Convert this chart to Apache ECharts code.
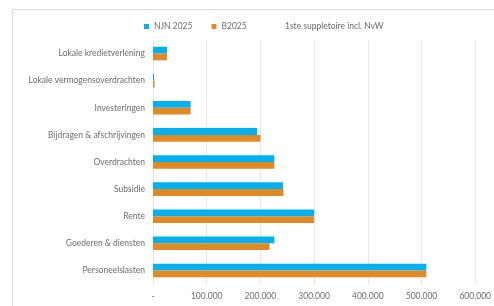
<!DOCTYPE html>
<html><head><meta charset="utf-8">
<script src="https://cdn.jsdelivr.net/npm/echarts@6/dist/echarts.min.js"></script>
<style>html,body{margin:0;padding:0;background:#fff}#c{width:494px;height:306px}</style>
</head><body><div id="c"></div>
<script>
var categories = ['Lokale kredietverlening','Lokale vermogensoverdrachten','Investeringen','Bijdragen & afschrijvingen','Overdrachten','Subsidie','Rente','Goederen & diensten','Personeelslasten'];
var njn2025 = [26000, 2000, 70000, 194000, 226000, 242000, 300000, 226000, 509000];
var b2025 = [26000, 3000, 70000, 200000, 226000, 243000, 300000, 217000, 509000];
var suppl = [];
var xTicks = {min: 0, max: 600000, interval: 100000};
var font = 'Lato';
var txt = {color:'#6b6b6b', fontSize: 8.5, fontFamily: font};
var chart = echarts.init(document.getElementById('c'));
chart.setOption({
  animation: false,
  graphic: [{type:'rect', shape:{x:12.5, y:9.5, width:500, height:320}, style:{fill:'none', stroke:'#d9d9d9', lineWidth:1}, silent:true}],
  legend: [{
    top: 17, left: 139, itemWidth: 5, itemHeight: 5, itemGap: 19,
    textStyle: txt,
    data: [{name:'NJN 2025', icon:'rect'},{name:'B2025', icon:'rect'}]
  },{
    top: 17, left: 270, itemWidth: 5, itemHeight: 5,
    textStyle: txt,
    data: [{name:'1ste suppletoire incl. NvW', icon:'rect'}]
  }],
  grid: {left: 153, right: 16, top: 40, bottom: 22, containLabel: false},
  xAxis: {
    type: 'value', min: xTicks.min, max: xTicks.max, interval: xTicks.interval,
    axisLine:{show:false}, axisTick:{show:false},
    splitLine:{lineStyle:{color:'#e6e6e6', width:1}},
    axisLabel:{color: txt.color, fontSize: 8.5, fontFamily: font, margin: 8,
      formatter: function(v){ return v === 0 ? '-' : echarts.format.addCommas(v).replace(/,/g,'.'); }}
  },
  yAxis: {
    type: 'category', data: categories, inverse: true,
    axisLine:{show:false}, axisTick:{show:false},
    axisLabel:{color: txt.color, fontSize: 8.5, fontFamily: font, margin: 8}
  },
  series: [
    {name:'NJN 2025', type:'bar', data: njn2025, barGap: '0%', barCategoryGap: '50%', itemStyle:{color:'#00b0f0'}},
    {name:'B2025', type:'bar', data: b2025, itemStyle:{color:'#e08a26'}},
    {name:'1ste suppletoire incl. NvW', type:'line', data: suppl, itemStyle:{color:'rgba(0,0,0,0)'}, lineStyle:{color:'rgba(0,0,0,0)'}}
  ]
});
</script></body></html>
